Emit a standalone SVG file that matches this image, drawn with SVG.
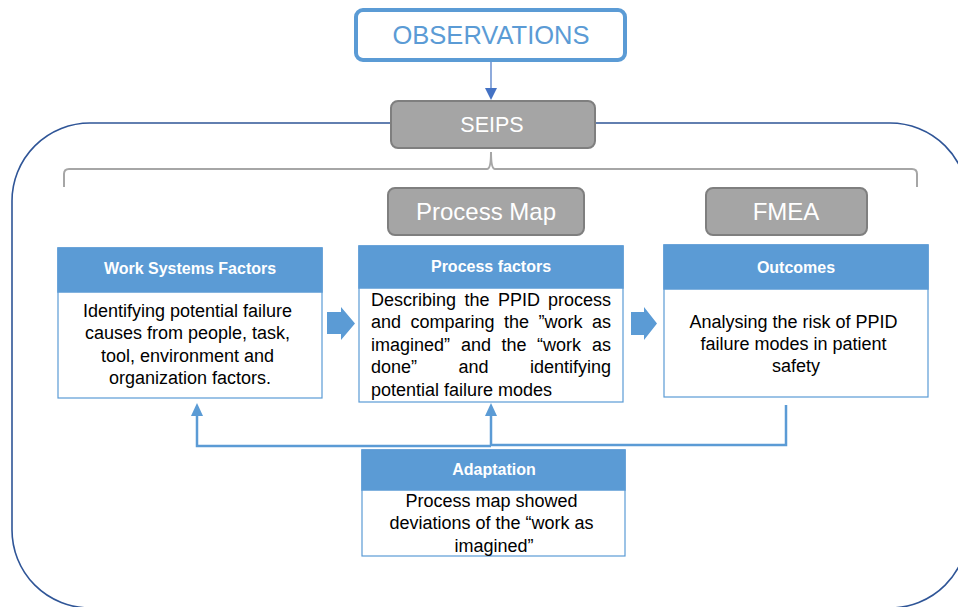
<svg xmlns="http://www.w3.org/2000/svg" width="958" height="607" viewBox="0 0 958 607">
  <defs>
    <style>
      .txt { font-family: "Liberation Sans", Arial, sans-serif; }
      .body { font-size: 18px; fill: #000; }
      .head { font-size: 16px; font-weight: bold; fill: #fff; }
      .hdr { fill: #5B9BD5; stroke: #5B9BD5; stroke-width: 1.5; }
      .box { fill: #fff; stroke: #5B9BD5; stroke-width: 1.2; }
      .grey { fill: #A5A5A5; stroke: #7F7F7F; stroke-width: 2; }
      .greytxt { font-size: 24px; fill: #fff; }
      .conn { fill: none; stroke: #5B9BD5; stroke-width: 2.5; }
      .tip { fill: #5B9BD5; }
      .block { fill: #5B9BD5; }
    </style>
  </defs>

  <!-- outer frame -->
  <rect x="12" y="123" width="956" height="485" rx="78" ry="78" fill="none" stroke="#2F5597" stroke-width="1.6"/>

  <!-- bracket under SEIPS -->
  <path d="M64 187 V174 Q64 169 69 169 H487 Q491 169 491 152 Q491 169 495 169 H912 Q917 169 917 174 V187" fill="none" stroke="#A6A6A6" stroke-width="2"/>

  <g id="connectors">
    <line x1="491" y1="61" x2="491" y2="89" stroke="#4472C4" stroke-width="1.2"/>
    <path d="M485 88 L497 88 L491 100 Z" fill="#4472C4"/>
    <path class="conn" d="M786 405 V445 H491 V407"/>
    <path class="conn" d="M491 446 H197 V407"/>
    <path class="tip" d="M491 403 L497 416 L485 416 Z"/>
    <path class="tip" d="M197 403 L203 416 L191 416 Z"/>
    <path class="block" d="M327 312 H341 V307 L355 323.5 L341 340 V334 H327 Z"/>
    <path class="block" d="M631 312 H644 V307 L657 323.5 L644 340 V335 H631 Z"/>
  </g>

  <g id="observations">
    <rect x="356" y="10" width="269" height="50" rx="7" ry="7" fill="#fff" stroke="#5B9BD5" stroke-width="4"/>
    <text class="txt" x="491" y="44" text-anchor="middle" font-size="25.5" fill="#5B9BD5">OBSERVATIONS</text>
  </g>

  <g id="seips">
    <rect class="grey" x="391" y="101" width="204" height="47" rx="7" ry="7"/>
    <text class="txt greytxt" x="492" y="132" text-anchor="middle" style="font-size:21.5px">SEIPS</text>
  </g>

  <g id="process-map">
    <rect class="grey" x="388" y="188" width="196" height="47" rx="7" ry="7"/>
    <text class="txt greytxt" x="486" y="220" text-anchor="middle">Process Map</text>
  </g>

  <g id="fmea">
    <rect class="grey" x="706" y="188" width="161" height="47" rx="7" ry="7"/>
    <text class="txt greytxt" x="786" y="220" text-anchor="middle">FMEA</text>
  </g>

  <g id="work-systems-factors">
    <rect class="box" x="58" y="248" width="264" height="150"/>
    <rect class="hdr" x="58" y="248" width="264" height="44"/>
    <text class="txt head" x="190" y="274" text-anchor="middle">Work Systems Factors</text>
    <text class="txt body" text-anchor="middle">
      <tspan x="190" y="317">Identifying potential failure</tspan>
      <tspan x="190" y="339">causes from people, task,</tspan>
      <tspan x="190" y="362">tool, environment and</tspan>
      <tspan x="190" y="384">organization factors.</tspan>
    </text>
  </g>

  <g id="process-factors">
    <rect class="box" x="359" y="246" width="264" height="156"/>
    <rect class="hdr" x="359" y="246" width="264" height="42"/>
    <text class="txt head" x="491" y="272" text-anchor="middle">Process factors</text>
    <!-- justified paragraph: each word placed on its own -->
    <g class="txt body">
      <text x="371" y="306">Describing</text>
      <text x="477" y="306" text-anchor="middle">the</text>
      <text x="519" y="306" text-anchor="middle">PPID</text>
      <text x="611" y="306" text-anchor="end">process</text>
      <text x="371" y="328">and</text>
      <text x="452.5" y="328" text-anchor="middle">comparing</text>
      <text x="516.5" y="328" text-anchor="middle">the</text>
      <text x="560.5" y="328" text-anchor="middle">”work</text>
      <text x="611" y="328" text-anchor="end">as</text>
      <text x="371" y="351">imagined”</text>
      <text x="476" y="351" text-anchor="middle">and</text>
      <text x="514" y="351" text-anchor="middle">the</text>
      <text x="559" y="351" text-anchor="middle">“work</text>
      <text x="611" y="351" text-anchor="end">as</text>
      <text x="371" y="373">done”</text>
      <text x="473.5" y="373" text-anchor="middle">and</text>
      <text x="611" y="373" text-anchor="end">identifying</text>
      <text x="371" y="396">potential failure modes</text>
    </g>
  </g>

  <g id="outcomes">
    <rect class="box" x="664" y="245" width="264" height="152"/>
    <rect class="hdr" x="664" y="245" width="264" height="44"/>
    <text class="txt head" x="796" y="273" text-anchor="middle">Outcomes</text>
    <text class="txt body" text-anchor="middle">
      <tspan x="796" y="328">Analysing the risk of PPID</tspan>
      <tspan x="796" y="350">failure modes in patient</tspan>
      <tspan x="796" y="372">safety</tspan>
    </text>
  </g>

  <g id="adaptation">
    <rect class="box" x="362" y="450" width="263" height="106"/>
    <rect class="hdr" x="362" y="450" width="263" height="40"/>
    <text class="txt head" x="494" y="475" text-anchor="middle">Adaptation</text>
    <text class="txt body" text-anchor="middle">
      <tspan x="494" y="507">Process map showed</tspan>
      <tspan x="494" y="529">deviations of the “work as</tspan>
      <tspan x="494" y="552">imagined”</tspan>
    </text>
  </g>
</svg>
